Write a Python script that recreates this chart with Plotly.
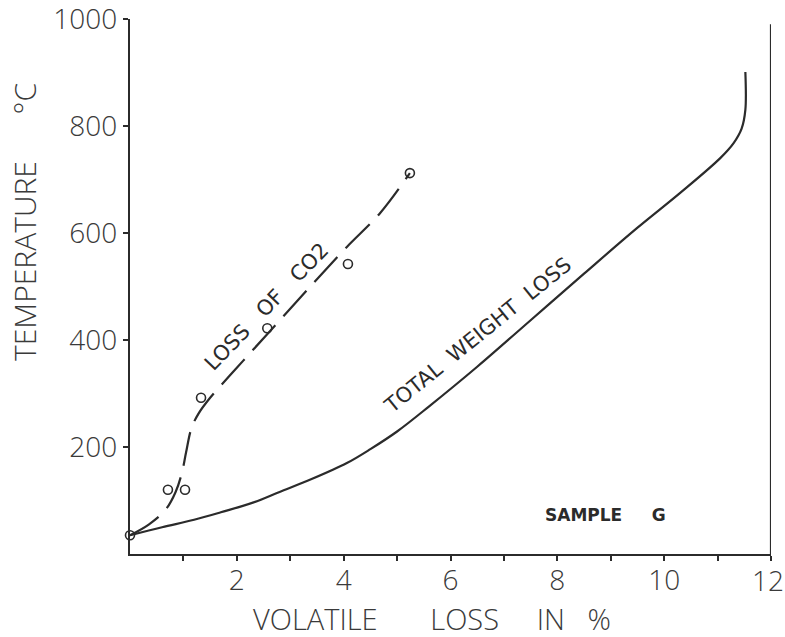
import plotly.graph_objects as go

# ---- data ----
total_x = [0, 0.6, 1.2, 1.7, 2.3, 2.8, 3.4, 4.06, 4.5, 5.0, 5.6, 6.5, 7.5, 8.5, 9.49, 10.3, 11.05, 11.3, 11.45, 11.52, 11.52]
total_t = [35, 50, 64, 78, 96, 116, 140, 170, 196, 229, 276, 350, 437, 524, 609, 675, 740, 768, 795, 830, 901]

co2_curve_x = [0, 0.35, 0.66, 0.85, 0.97, 1.05, 1.15, 1.28, 1.5, 2.0, 2.56, 3.43, 4.06, 4.68, 5.24]
co2_curve_t = [35, 55, 82, 115, 151, 190, 235, 262, 292, 348, 410, 506, 574, 637, 712]

co2_pts_x = [0, 0.71, 1.03, 1.33, 2.57, 4.08, 5.24]
co2_pts_t = [35, 120, 120, 292, 422, 542, 712]

x_tickvals = [1, 2, 3, 4, 5, 6, 7, 8, 9, 10, 11, 12]
x_ticktext = ["", "2", "", "4", "", "6", "", "8", "", "10", "", "12"]
y_tickvals = [200, 400, 600, 800, 1000]
y_ticktext = ["200", "400", "600", "800", "1000"]

INK = "#2b2b2b"
GREY = "#3a3a3a"
NB = "\u00a0"
TICKFONT = dict(family="Open Sans", size=28, color=GREY, weight=300)

fig = go.Figure()

fig.add_trace(go.Scatter(
    x=total_x, y=total_t, mode="lines",
    line=dict(color=INK, width=2.2, shape="spline", smoothing=1.0),
    cliponaxis=False, showlegend=False, hoverinfo="skip"))

fig.add_trace(go.Scatter(
    x=co2_curve_x, y=co2_curve_t, mode="lines",
    line=dict(color=INK, width=2.2, shape="spline", smoothing=1.0, dash="34px,12px"),
    cliponaxis=False, showlegend=False, hoverinfo="skip"))

fig.add_trace(go.Scatter(
    x=co2_pts_x, y=co2_pts_t, mode="markers",
    marker=dict(symbol="circle-open", size=9, color=INK, line=dict(width=1.6, color=INK)),
    cliponaxis=False, showlegend=False, hoverinfo="skip"))

# right-hand frame line
fig.add_shape(type="line", xref="x", yref="y", x0=12, x1=12, y0=0, y1=990,
              line=dict(color=INK, width=2.2))

fig.add_annotation(x=2.55, y=462, xref="x", yref="y", text="LOSS" + NB*3 + "OF" + NB*3 + "CO2",
                   textangle=-46, showarrow=False,
                   font=dict(family="DejaVu Sans", size=21, color=INK))
fig.add_annotation(x=6.52, y=409, xref="x", yref="y", text="TOTAL" + NB*2 + "WEIGHT" + NB*2 + "LOSS",
                   textangle=-39, showarrow=False,
                   font=dict(family="DejaVu Sans", size=21, color=INK))
fig.add_annotation(x=8.91, y=73, xref="x", yref="y", text="SAMPLE" + NB*5 + "G",
                   showarrow=False,
                   font=dict(family="DejaVu Sans", size=17, color=INK, weight="bold"))

# axis titles (positions given in pixels, converted to paper coordinates below)
L, R, T, B, W, H = 130, 14, 19, 83, 785, 637
pw, ph = W - L - R, H - T - B

def px2paper(px, py):
    return (px - L) / pw, (H - B - py) / ph

# the last x tick label sits at the page edge: draw it nudged slightly inward
last_label = x_ticktext[-1]
tick_text_drawn = x_ticktext[:-1] + [""]
lx, ly = px2paper(768, 580)
fig.add_annotation(x=lx, y=ly, xref="paper", yref="paper", xanchor="center", yanchor="middle",
                   text=last_label, showarrow=False, font=TICKFONT)

xt_x, xt_y = px2paper(432, 618)
fig.add_annotation(x=xt_x, y=xt_y, xref="paper", yref="paper", xanchor="center", yanchor="middle",
                   text="VOLATILE" + NB*7 + "LOSS" + NB*5 + "IN" + NB*3 + "%",
                   showarrow=False, font=dict(family="Open Sans", size=29, color=GREY, weight=300))
yt_x, yt_y = px2paper(24, 222)
fig.add_annotation(x=yt_x, y=yt_y, xref="paper", yref="paper", xanchor="center", yanchor="middle",
                   text="TEMPERATURE" + NB*6 + "°C", textangle=-90,
                   showarrow=False, font=dict(family="Open Sans", size=30, color=GREY, weight=300))

fig.update_layout(
    width=W, height=H,
    margin=dict(l=L, r=R, t=T, b=B, pad=0, autoexpand=False),
    paper_bgcolor="white", plot_bgcolor="white",
    xaxis=dict(range=[0, 12], showgrid=False, zeroline=False, showline=True,
               linecolor=INK, linewidth=2.2, ticks="outside", ticklen=5, tickwidth=2,
               tickcolor=INK, tickvals=x_tickvals, ticktext=tick_text_drawn,
               tickfont=TICKFONT, ticklabeloverflow="allow", automargin=False,
               ticklabelstandoff=-5),
    yaxis=dict(range=[0, 1000], showgrid=False, zeroline=False, showline=True,
               linecolor=INK, linewidth=2.2, ticks="outside", ticklen=5, tickwidth=2,
               tickcolor=INK, tickvals=y_tickvals, ticktext=y_ticktext,
               tickfont=TICKFONT, ticklabeloverflow="allow", automargin=False),
)

fig.write_html("out.html")
